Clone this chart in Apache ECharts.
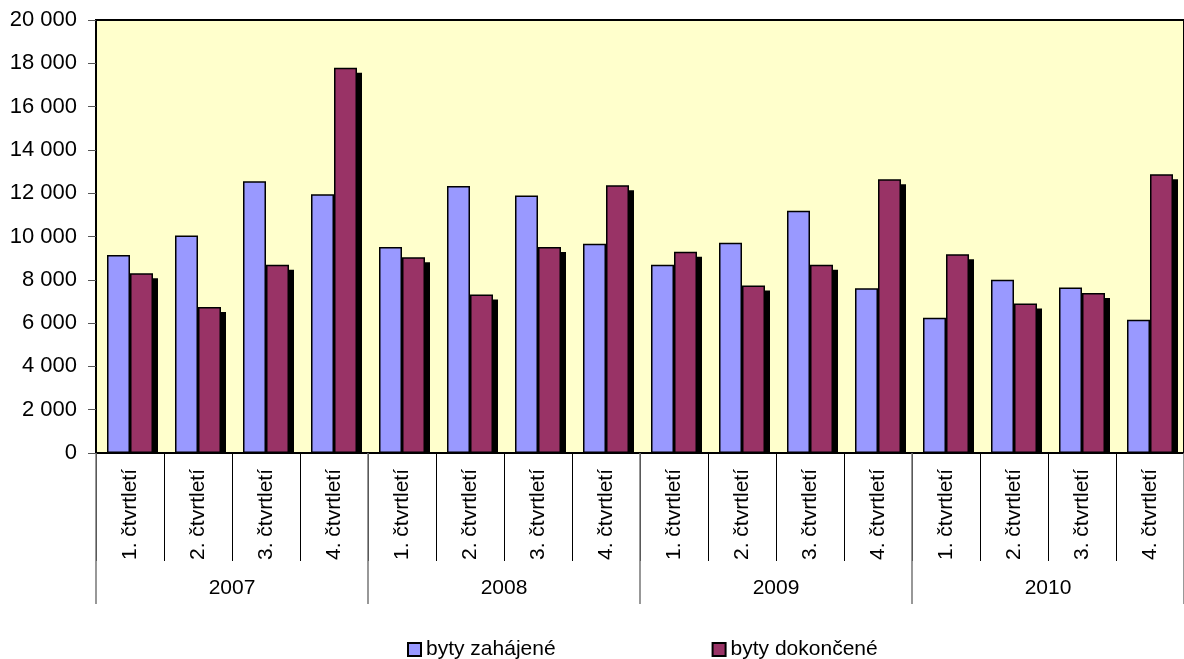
<!DOCTYPE html>
<html>
<head>
<meta charset="utf-8">
<script src="https://cdn.jsdelivr.net/npm/echarts@6/dist/echarts.min.js"></script>
<style>
html,body{margin:0;padding:0;background:#fff;}
#main{width:1184px;height:659px;}
</style>
</head>
<body>
<div id="main"></div>
<script>
// čtvrtletí a roky
var quarters = ['1. čtvrtletí','2. čtvrtletí','3. čtvrtletí','4. čtvrtletí',
                '1. čtvrtletí','2. čtvrtletí','3. čtvrtletí','4. čtvrtletí',
                '1. čtvrtletí','2. čtvrtletí','3. čtvrtletí','4. čtvrtletí',
                '1. čtvrtletí','2. čtvrtletí','3. čtvrtletí','4. čtvrtletí'];
var years = ['2007','2008','2009','2010'];
var started = [9150, 10050, 12550, 11950, 9520, 12330, 11890, 9670, 8690, 9710, 11190, 7610, 6250, 8000, 7650, 6150];
var finished = [8300, 6740, 8690, 17800, 9040, 7320, 9520, 12370, 9300, 7740, 8690, 12650, 9180, 6900, 7390, 12880];

var font = "'Liberation Sans', Arial, sans-serif";
var myChart = echarts.init(document.getElementById('main'));

myChart.setOption({
    animation: false,
    grid: {
        left: 96, right: -8, top: 20, bottom: 206,
        show: true,
        backgroundColor: '#FFFFCC',
        borderColor: '#000',
        borderWidth: 2
    },
    legend: {
        data: ['byty zahájené', 'byty dokončené'],
        left: 407, top: 639,
        padding: 0,
        icon: 'rect',
        itemWidth: 13, itemHeight: 13,
        itemGap: 156,
        textStyle: {fontFamily: font, fontSize: 21, color: '#000'}
    },
    xAxis: [
        {
            type: 'category',
            data: quarters,
            axisLine: {show: true, lineStyle: {color: '#000', width: 1}},
            axisTick: {show: true, interval: 0, length: 108, lineStyle: {color: '#000'}},
            axisLabel: {interval: 0, rotate: 90, margin: 16, fontFamily: font, fontSize: 21, color: '#000'}
        },
        {
            type: 'category',
            data: years,
            position: 'bottom',
            axisLine: {show: false},
            axisTick: {show: true, interval: 0, length: 151, lineStyle: {color: '#777', width: 1.5}},
            axisLabel: {interval: 0, margin: 125, fontFamily: font, fontSize: 21, color: '#000'}
        }
    ],
    yAxis: {
        type: 'value',
        min: 0, max: 20000, interval: 2000,
        axisLine: {show: true, lineStyle: {color: '#000'}},
        axisTick: {show: true, length: 8, lineStyle: {color: '#555'}},
        splitLine: {show: false},
        axisLabel: {
            margin: 19, fontFamily: font, fontSize: 22, color: '#000',
            formatter: function (v) { return String(v).replace(/\B(?=(\d{3})+(?!\d))/g, ' '); }
        }
    },
    series: [
        {
            // stín pod vínovými sloupci
            type: 'custom',
            z: 1,
            silent: true,
            data: finished.map(function (v, i) { return [i, v]; }),
            renderItem: function (params, api) {
                var top = api.coord([api.value(0), api.value(1)]);
                var base = api.coord([api.value(0), 0]);
                return {
                    type: 'rect',
                    shape: {x: top[0] + 5, y: top[1] + 5, width: 23, height: base[1] - top[1] - 5},
                    style: {fill: '#000'}
                };
            }
        },
        {
            name: 'byty zahájené',
            type: 'bar',
            z: 2,
            barWidth: 23,
            barGap: '0%',
            data: started,
            itemStyle: {color: '#9999FF', borderColor: '#000', borderWidth: 1.5}
        },
        {
            name: 'byty dokončené',
            type: 'bar',
            z: 3,
            barWidth: 23,
            barGap: '0%',
            data: finished,
            itemStyle: {color: '#993366', borderColor: '#000', borderWidth: 1.5}
        }
    ]
});
</script>
</body>
</html>
